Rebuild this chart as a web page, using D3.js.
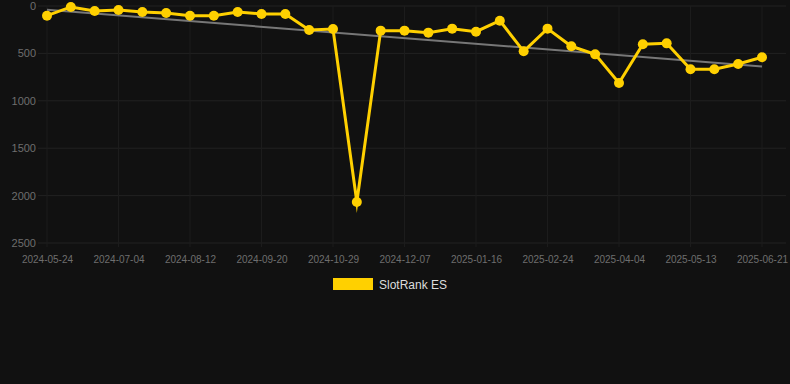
<!DOCTYPE html>
<html>
<head>
<meta charset="utf-8">
<script src="https://cdn.jsdelivr.net/npm/d3@7"></script>
<style>
  html, body { margin: 0; padding: 0; background: #111111; }
  svg { display: block; font-family: Arial, "Liberation Sans", sans-serif; }
</style>
</head>
<body>
<svg class="Chart"></svg>
<script>
/* Chart data */
const dates = [
  "2024-05-24", "2024-06-06", "2024-06-20", "2024-07-04", "2024-07-17", "2024-07-30",
  "2024-08-12", "2024-08-25", "2024-09-07", "2024-09-20", "2024-10-03", "2024-10-16",
  "2024-10-29", "2024-11-11", "2024-11-24", "2024-12-07", "2024-12-20", "2025-01-03",
  "2025-01-16", "2025-01-29", "2025-02-11", "2025-02-24", "2025-03-09", "2025-03-22",
  "2025-04-04", "2025-04-17", "2025-04-30", "2025-05-13", "2025-05-26", "2025-06-08",
  "2025-06-21"
];
const ranks = [
  102, 10, 53, 42, 63, 74, 102, 102, 63, 84, 84, 253, 243, 2067, 260, 260,
  281, 239, 271, 155, 478, 239, 425, 510, 812, 404, 394, 668, 668, 612, 541
];
const trendEnds = [40, 638];
const yTicks = [0, 500, 1000, 1500, 2000, 2500];
const xTickLabels = dates.filter((d, i) => i % 3 === 0);
const seriesName = "SlotRank ES";

function visualize() {
  const width = 790;
  const height = 384;
  const svg = d3.select('.Chart')
    .attr('width', width)
    .attr('height', height);

  const x = d3.scalePoint().domain(dates).range([47, 762]);
  const y = d3.scaleLinear().domain([0, 2500]).range([6, 243]);

  // grid
  const grid = svg.append('g');
  grid.selectAll('line.h')
    .data(yTicks)
    .enter().append('line')
      .attr('x1', 38).attr('x2', 786)
      .attr('y1', d => y(d)).attr('y2', d => y(d))
      .attr('stroke', '#222').attr('stroke-width', 1);
  grid.selectAll('line.v')
    .data(xTickLabels)
    .enter().append('line')
      .attr('x1', d => x(d)).attr('x2', d => x(d))
      .attr('y1', 6).attr('y2', 247)
      .attr('stroke', '#1c1c1c').attr('stroke-width', 1);

  // axes
  const yAxis = svg.append('g')
    .attr('transform', 'translate(36,0)')
    .call(d3.axisLeft(y).tickValues(yTicks).tickFormat(d3.format('d')).tickSize(0).tickPadding(0));
  yAxis.select('.domain').remove();
  yAxis.selectAll('text').attr('fill', '#6e6e6e').attr('font-size', 11)
    .attr('font-family', 'Arial, "Liberation Sans", sans-serif');

  const xAxis = svg.append('g')
    .attr('transform', 'translate(0,256)')
    .call(d3.axisBottom(x).tickValues(xTickLabels).tickSize(0).tickPadding(0));
  xAxis.select('.domain').remove();
  xAxis.selectAll('text').attr('fill', '#6e6e6e').attr('font-size', 10)
    .attr('font-family', 'Arial, "Liberation Sans", sans-serif');

  // trend line
  svg.append('line')
    .attr('x1', x(dates[0])).attr('y1', y(trendEnds[0]))
    .attr('x2', x(dates[dates.length - 1])).attr('y2', y(trendEnds[1]))
    .attr('stroke', '#777').attr('stroke-width', 2);

  // series line
  const line = d3.line()
    .x((d, i) => x(dates[i]))
    .y(d => y(d));
  svg.append('path')
    .datum(ranks)
    .attr('d', line)
    .attr('fill', 'none')
    .attr('stroke', '#ffd000')
    .attr('stroke-width', 3)
    .attr('stroke-linejoin', 'miter')
    .attr('stroke-miterlimit', 10);

  svg.append('g')
    .selectAll('circle')
    .data(ranks)
    .enter().append('circle')
      .attr('cx', (d, i) => x(dates[i]))
      .attr('cy', d => y(d))
      .attr('r', 5)
      .attr('fill', '#ffd000');

  // legend
  svg.append('rect')
    .attr('x', 333).attr('y', 278).attr('width', 40).attr('height', 12)
    .attr('fill', '#ffd000');
  svg.append('text')
    .attr('x', 379).attr('y', 289)
    .attr('fill', '#dddddd').attr('font-size', 12)
    .text(seriesName);
}

visualize();
</script>
</body>
</html>
